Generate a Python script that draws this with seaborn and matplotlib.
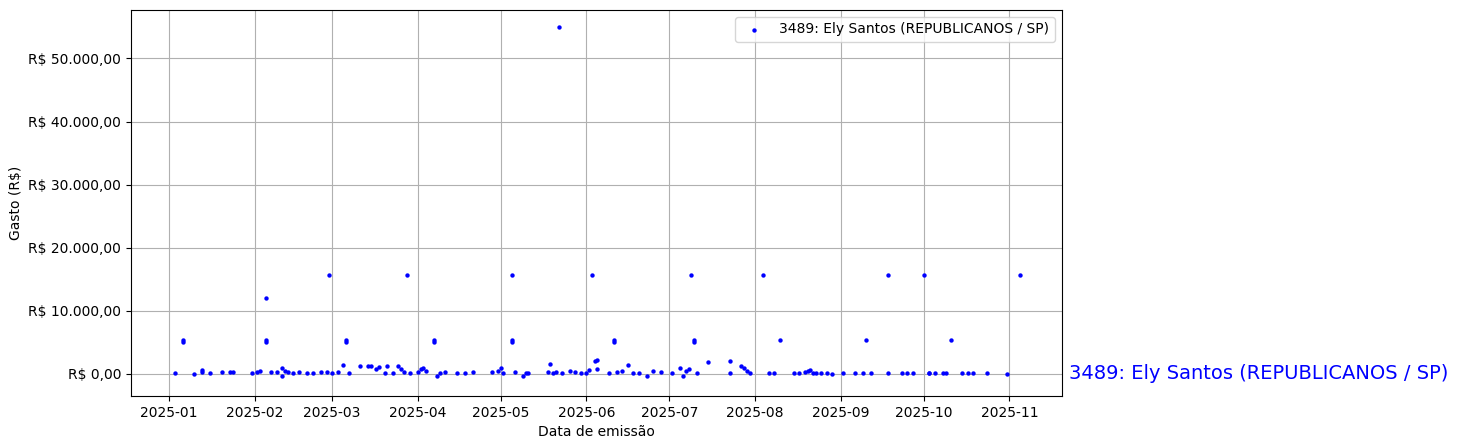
import pandas as pd
import matplotlib
matplotlib.use("Agg")
import matplotlib.pyplot as plt
import seaborn as sns
from matplotlib.ticker import FuncFormatter

label = "3489: Ely Santos (REPUBLICANOS / SP)"

datas = [
    "2025-01-03", "2025-01-06", "2025-01-06", "2025-01-10", "2025-01-13", "2025-01-13", "2025-01-16",
    "2025-01-20", "2025-01-23", "2025-01-24", "2025-01-31", "2025-02-02", "2025-02-03",
    "2025-02-05", "2025-02-05", "2025-02-05", "2025-02-07", "2025-02-09", "2025-02-11", "2025-02-11",
    "2025-02-12", "2025-02-13", "2025-02-15", "2025-02-17", "2025-02-20", "2025-02-22", "2025-02-25",
    "2025-02-27", "2025-02-28", "2025-03-01", "2025-03-03", "2025-03-05", "2025-03-06", "2025-03-06",
    "2025-03-07", "2025-03-11", "2025-03-14", "2025-03-15", "2025-03-17", "2025-03-18", "2025-03-20",
    "2025-03-21", "2025-03-23", "2025-03-25", "2025-03-26", "2025-03-27", "2025-03-28", "2025-03-29",
    "2025-04-01", "2025-04-02", "2025-04-03", "2025-04-04", "2025-04-07", "2025-04-07", "2025-04-08",
    "2025-04-09", "2025-04-11", "2025-04-15", "2025-04-18", "2025-04-21", "2025-04-28", "2025-04-30",
    "2025-05-01", "2025-05-02", "2025-05-05", "2025-05-05", "2025-05-05", "2025-05-06", "2025-05-09",
    "2025-05-10", "2025-05-11", "2025-05-18", "2025-05-19", "2025-05-20", "2025-05-21", "2025-05-22",
    "2025-05-23", "2025-05-26", "2025-05-28", "2025-05-30", "2025-06-01", "2025-06-02", "2025-06-03",
    "2025-06-04", "2025-06-05", "2025-06-05", "2025-06-09", "2025-06-11", "2025-06-11", "2025-06-12",
    "2025-06-14", "2025-06-16", "2025-06-18", "2025-06-20", "2025-06-23", "2025-06-25", "2025-06-28",
    "2025-07-02", "2025-07-05", "2025-07-06", "2025-07-07", "2025-07-08", "2025-07-09", "2025-07-10",
    "2025-07-10", "2025-07-11", "2025-07-15", "2025-07-23", "2025-07-23", "2025-07-27", "2025-07-28",
    "2025-07-29", "2025-07-30", "2025-08-04", "2025-08-06", "2025-08-08", "2025-08-10", "2025-08-15",
    "2025-08-17", "2025-08-19", "2025-08-20", "2025-08-21", "2025-08-22", "2025-08-23", "2025-08-25",
    "2025-08-27", "2025-08-29", "2025-09-02", "2025-09-06", "2025-09-09", "2025-09-10", "2025-09-12",
    "2025-09-18", "2025-09-18", "2025-09-23", "2025-09-25", "2025-09-27", "2025-10-01", "2025-10-03",
    "2025-10-03", "2025-10-05", "2025-10-08", "2025-10-09", "2025-10-11", "2025-10-15", "2025-10-17",
    "2025-10-19", "2025-10-24", "2025-10-31", "2025-11-05",
]
gastos = [
    150, 5000, 5400, 50, 300, 600, 200,
    250, 300, 280, 150, 300, 500,
    12000, 5000, 5400, 300, 250, -400, 1000,
    500, 300, 200, 250, 200, 150, 250,
    300, 15700, 200, 350, 1400, 5000, 5400,
    200, 1200, 1300, 1200, 800, 1100, 200,
    1200, 200, 1300, 800, 300, 15700, 200,
    300, 800, 1000, 400, 5000, 5400, -400, 200,
    250, 200, 150, 250, 300, 500,
    1000, 150, 5000, 5400, 15700, 300, -300,
    200, 150, 300, 1500, 200, 300, 55000,
    200, 500, 300, 200, 200, 600, 15700,
    2000, 2200, 800, 200, 5000, 5400, 300,
    400, 1400, 200, 150, -400, 500, 300,
    200, 1000, -300, 400, 800, 15700, 5000,
    5400, 200, 1900, 2000, 200, 1200, 900,
    400, 200, 15700, 200, 200, 5400, 100,
    200, 250, 400, 600, 200, 200, 150,
    100, 50, 150, 150, 150, 5400, 150,
    15700, 200, 100, 200, 150, 15700, 200,
    100, 200, 150, 100, 5400, 100, 200,
    150, 100, 50, 15700,
]

df = pd.DataFrame({"data": pd.to_datetime(datas), "gasto": gastos})


def reais(v, pos):
    s = f"{v:,.2f}".replace(",", "X").replace(".", ",").replace("X", ".")
    return f"R$ {s}"


fig, ax = plt.subplots(figsize=(14.59, 4.48), dpi=100)
sns.scatterplot(data=df, x="data", y="gasto", color="blue", s=10, edgecolor="blue",
                linewidth=0, label=label, ax=ax)
ax.yaxis.set_major_formatter(FuncFormatter(reais))
ax.set_yticks([0, 10000, 20000, 30000, 40000, 50000])
ax.set_ylim(-3500, 57700)
ax.set_xlim(pd.Timestamp("2024-12-18 06:00"), pd.Timestamp("2025-11-20"))
ax.grid(True)
ax.set_axisbelow(True)
ax.set_xlabel("Data de emissão")
ax.set_ylabel("Gasto (R$)")
ax.legend(loc="upper right")
ax.text(1.008, 0.0, label, transform=ax.get_yaxis_transform(), color="blue",
        fontsize=14, va="center", ha="left")
ax.set_position([0.0898, 0.116, 0.638, 0.862])
fig.savefig("out.png")
